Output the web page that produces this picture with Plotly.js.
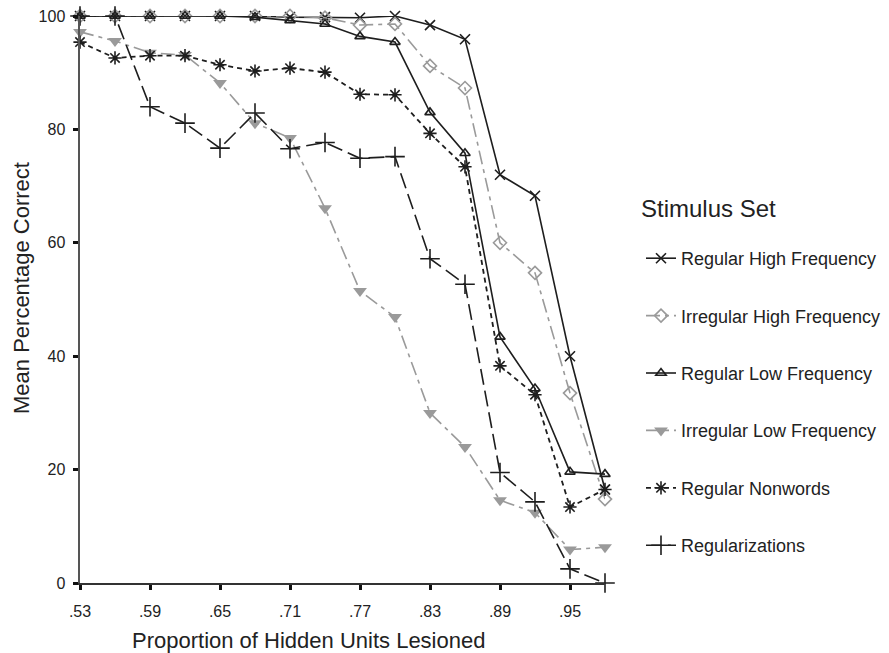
<!DOCTYPE html>
<html>
<head>
<meta charset="utf-8">
<script src="https://cdn.plot.ly/plotly-3.0.1.min.js"></script>
<style>html,body{margin:0;padding:0;background:#fff;}#chart{width:889px;height:653px;}</style>
</head>
<body>
<div id="chart"></div>
<script>
// Proportion of hidden units lesioned
const lesionProportion = [0.53,0.56,0.59,0.62,0.65,0.68,0.71,0.74,0.77,0.80,0.83,0.86,0.89,0.92,0.95,0.98];
const tickValues = [0.53,0.59,0.65,0.71,0.77,0.83,0.89,0.95];
const tickLabels = ['.53','.59','.65','.71','.77','.83','.89','.95'];

// Mean percentage correct per stimulus set
const regularHighFrequency   = [100,100,100,100,100,100,99.8,99.8,99.7,100,98.4,95.9,72,68.3,40,16.5];
const irregularHighFrequency = [100,100,100,100,100,100,100,99.7,98.4,98.6,91.2,87.3,60,54.7,33.5,14.8];
const regularLowFrequency    = [100,100,100,100,100,99.8,99.2,98.6,96.4,95.4,83,75.8,43.4,34.3,19.6,19.2];
const irregularLowFrequency  = [97.2,95.6,93.5,93.1,88.2,81.1,78.5,66.1,51.5,46.9,30,24,14.6,12.4,5.9,6.3];
const regularNonwords        = [95.4,92.6,93,93,91.4,90.3,90.8,90.1,86.2,86.1,79.3,73.4,38.3,33.2,13.4,16.5];
const regularizations        = [100,100,84,81.1,76.7,82.9,76.6,77.7,74.9,75.2,57.2,52.7,19.5,14.3,2.5,0];

const seriesNames = ['Regular High Frequency','Irregular High Frequency','Regular Low Frequency','Irregular Low Frequency','Regular Nonwords','Regularizations'];
const seriesValues = [regularHighFrequency, irregularHighFrequency, regularLowFrequency, irregularLowFrequency, regularNonwords, regularizations];

const BLACK = '#1e1e1e', GRAY = '#9a9a9a';
const styles = [
  {line:{color:BLACK,width:1.6,dash:'solid'}, marker:{symbol:'x-thin-open',size:10,color:BLACK,line:{color:BLACK,width:1.6}}},
  {line:{color:GRAY,width:1.6,dash:'14px,5px,4px,5px'}, marker:{symbol:'diamond-open',size:10,color:GRAY,line:{color:GRAY,width:1.6}}},
  {line:{color:BLACK,width:1.6,dash:'solid'}, marker:{symbol:'triangle-up-open',size:9,color:BLACK,line:{color:BLACK,width:1.6}}},
  {line:{color:GRAY,width:1.6,dash:'14px,5px,4px,5px'}, marker:{symbol:'triangle-down',size:12,color:GRAY,line:{color:GRAY,width:0}}},
  {line:{color:BLACK,width:1.8,dash:'5px,4px'}, marker:{symbol:'asterisk-open',size:11,color:BLACK,line:{color:BLACK,width:1.6}}},
  {line:{color:BLACK,width:1.6,dash:'16px,6px'}, marker:{symbol:'cross-thin-open',size:14,color:BLACK,line:{color:BLACK,width:1.6}}}
];

const traces = seriesNames.map((name, i) => ({
  type:'scatter', mode:'lines+markers', name:name, legendgroup:'g'+i,
  x: lesionProportion, y: seriesValues[i],
  line: styles[i].line, marker: styles[i].marker, cliponaxis:false
}));

const layout = {
  width:889, height:653,
  margin:{l:80, r:284, t:16, b:70},
  paper_bgcolor:'#fff', plot_bgcolor:'#fff',
  font:{family:'Liberation Sans, Arial, sans-serif', color:'#222', size:16},
  showlegend:true,
  legend:{xref:'container', yref:'container', x:641/889, xanchor:'left', y:(653-240)/653, yanchor:'top',
          font:{size:18, color:'#222'}, tracegroupgap:31, itemwidth:30, bgcolor:'rgba(0,0,0,0)'},
  xaxis:{range:[0.53,0.98], tickmode:'array', tickvals:tickValues, ticktext:tickLabels,
         showgrid:false, zeroline:false, showline:true, linecolor:'#333', linewidth:2,
         ticks:'outside', ticklen:5, tickwidth:3, tickcolor:'#111', ticklabelstandoff:8,
         tickfont:{size:16}},
  yaxis:{range:[0,100], tickmode:'array', tickvals:[0,20,40,60,80,100], ticktext:['0','20','40','60','80','100'],
         showgrid:false, zeroline:false, showline:true, linecolor:'#555', linewidth:2.5,
         ticks:'outside', ticklen:5, tickwidth:3, tickcolor:'#111', ticklabelstandoff:4,
         tickfont:{size:16}},
  annotations:[
    {text:'Proportion of Hidden Units Lesioned', xref:'paper', yref:'paper', x:(308-80)/525, y:(583-640)/567,
     xanchor:'center', yanchor:'middle', showarrow:false, font:{size:22, color:'#222'}},
    {text:'Mean Percentage Correct', xref:'paper', yref:'paper', x:(21-80)/525, y:(583-288)/567,
     xanchor:'center', yanchor:'middle', textangle:-90, showarrow:false, font:{size:22, color:'#222'}},
    {text:'Stimulus Set', xref:'paper', yref:'paper', x:(639-80)/525, y:(583-208)/567,
     xanchor:'left', yanchor:'middle', showarrow:false, font:{size:24, color:'#222'}}
  ]
};

Plotly.newPlot('chart', traces, layout, {displayModeBar:false, staticPlot:true});
</script>
</body>
</html>
